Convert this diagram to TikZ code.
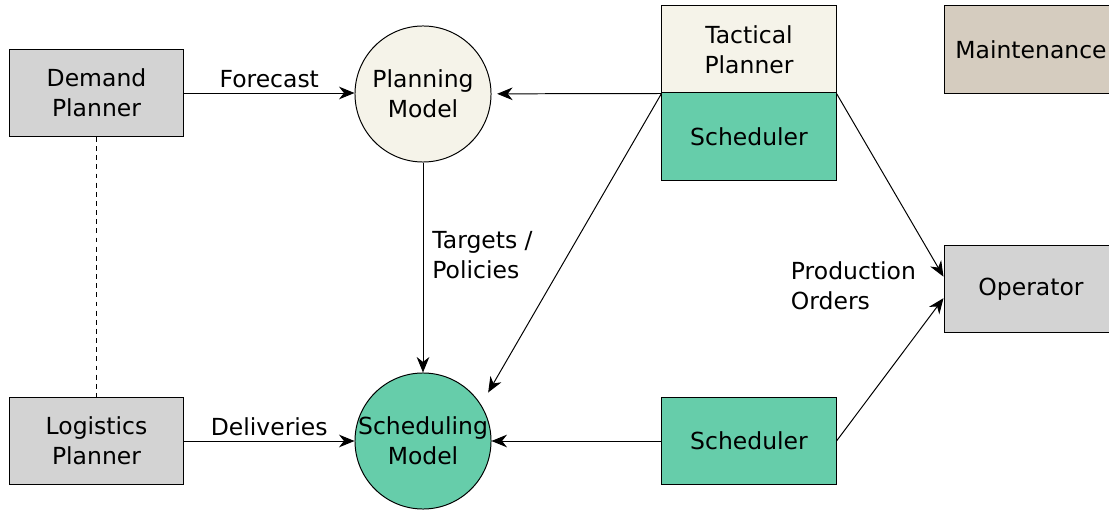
\documentclass[tikz,border=0pt]{standalone}
\usepackage{fontspec}
\setmainfont{DejaVu Sans}
\usetikzlibrary{arrows.meta}
\definecolor{boxgray}{HTML}{D3D3D3}
\definecolor{cream}{HTML}{F5F3E9}
\definecolor{schedgreen}{HTML}{66CDAA}
\definecolor{maintan}{HTML}{D5CCBF}
\begin{document}
\begin{tikzpicture}[x=0.025cm, y=-0.025cm,
    every node/.style={font=\fontsize{16.7}{21.3}\selectfont},
    box/.style={draw, line width=0.7pt, minimum width=4.35cm, minimum height=2.175cm, inner sep=0pt, align=center},
    model/.style={draw, circle, line width=0.7pt, minimum size=3.4cm, inner sep=-30pt, align=center},
    arr/.style={-{Stealth[length=11pt, width=9pt, inset=3.5pt]}, line width=0.7pt}]
    \useasboundingbox (0,0) rectangle (1109,510);
    % planners on the left
    \node[box, fill=boxgray] (demand) at (96.5,93) {Demand\\Planner};
    \node[box, fill=boxgray] (logist) at (96.5,441) {Logistics\\Planner};
    % the two models
    \node[model, fill=cream] (planmod) at (423,94) {Planning\\Model};
    \node[model, fill=schedgreen] (schedmod) at (423,441) {Scheduling\\Model};
    % tactical planner stacked on scheduler, and the lone scheduler
    \node[box, fill=cream] (tactical) at (749,49.5) {Tactical\\Planner};
    \node[box, fill=schedgreen] (schedtop) at (749,136.5) {Scheduler};
    \node[box, fill=schedgreen] (schedbot) at (749,441) {Scheduler};
    % right column
    \node[box, fill=maintan] (maint) at (1031,49.5) {Maintenance};
    \node[box, fill=boxgray] (operator) at (1031,289) {Operator};
    \node[right, align=left] (prodlbl) at (786,286) {Production\\Orders};

    \draw[line width=0.7pt, dash pattern=on 3.5pt off 3pt] (demand) -- (logist);
    \draw[arr] (demand) -- node[above]{Forecast} (demand.east -| planmod.west);
    \draw[arr] (logist) -- node[above]{Deliveries} (schedmod);
    \draw[arr] (planmod) -- node[pos=0.44, right, xshift=3pt, align=left]{Targets /\\Policies} (schedmod);
    \draw[arr, shorten >=4pt] (tactical.south west) -- (planmod);
    \draw[arr, shorten >=10pt] (tactical.south west) -- (schedmod.32);
    \draw[arr] (schedbot) -- (schedmod);
    \draw[arr] (tactical.south east) -- (operator.172);
    \draw[arr] (schedbot.east) -- (operator.186);
\end{tikzpicture}
\end{document}
